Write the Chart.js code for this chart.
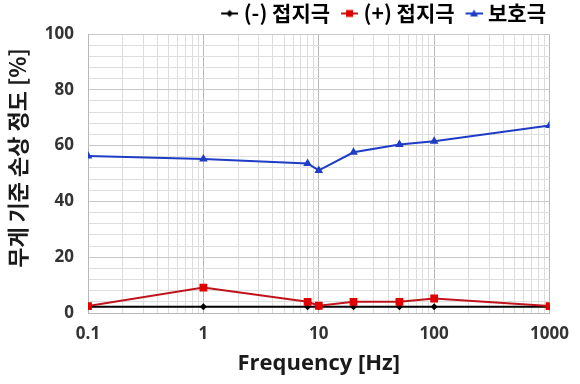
<!DOCTYPE html>
<html lang="ko">
<head>
<meta charset="utf-8">
<title>무게 기준 손상 정도</title>
<script src="https://cdn.jsdelivr.net/npm/chart.js@4/dist/chart.umd.min.js"></script>
<style>
  html, body { margin: 0; padding: 0; background: #ffffff; }
  #wrap { width: 580px; height: 384px; }
</style>
</head>
<body>
<div id="wrap"><canvas id="chart" width="580" height="384"></canvas></div>
<script>
// Measured weight-loss damage per test frequency
const frequencies = [0.1, 1, 8, 10, 20, 50, 100, 1000];
const negativeElectrode = [2.2, 2.2, 2.2, 2.2, 2.2, 2.2, 2.2, 2.2];
const positiveElectrode = [2.5, 9.1, 4.0, 2.6, 4.0, 4.0, 5.2, 2.5];
const protectiveElectrode = [56.3, 55.2, 53.6, 51.1, 57.6, 60.4, 61.6, 67.2];
const seriesNames = ['(-) 접지극', '(+) 접지극', '보호극'];

// Axis labels
const xTickLabels = ['0.1', '1', '10', '100', '1000'];
const yTickLabels = ['0', '20', '40', '60', '80', '100'];
const xTitle = 'Frequency [Hz]';
const yTitle = '무게 기준 손상 정도 [%]';

const lineColors = ['#000000', '#c0141c', '#1f3cc4'];
const markerColors = ['#000000', '#e00000', '#1f3cc4'];
const markerStyles = ['rectRot', 'rect', 'triangle'];
const markerRadii = [3.5, 5.5, 5];

const koreanFont = "'Noto Sans CJK KR', sans-serif";
const latinFont = "'Open Sans', 'Liberation Sans', sans-serif";

// Log-axis grid: every integer multiple inside each decade
function logGridValues(lo, hi) {
  const out = [];
  for (let e = Math.round(Math.log10(lo)); e < Math.round(Math.log10(hi)); e++) {
    for (let m = 1; m <= 9; m++) out.push(Number((m * Math.pow(10, e)).toPrecision(6)));
  }
  out.push(hi);
  return out;
}
const isDecade = v => Math.abs(Math.log10(v) - Math.round(Math.log10(v))) < 1e-9;

// Small line-with-marker icons for the legend
function legendIcon(i) {
  const c = document.createElement('canvas');
  c.width = 30; c.height = 12;
  const g = c.getContext('2d');
  g.strokeStyle = lineColors[i];
  g.lineWidth = 2;
  g.beginPath(); g.moveTo(13, 6); g.lineTo(30, 6); g.stroke();
  g.fillStyle = markerColors[i];
  const cx = 21.5, cy = 6;
  g.beginPath();
  if (markerStyles[i] === 'rectRot') {
    g.moveTo(cx, cy - 3.5); g.lineTo(cx + 3.5, cy); g.lineTo(cx, cy + 3.5); g.lineTo(cx - 3.5, cy);
  } else if (markerStyles[i] === 'rect') {
    g.rect(cx - 3.5, cy - 3.5, 7, 7);
  } else {
    g.moveTo(cx, cy - 4); g.lineTo(cx + 4, cy + 3); g.lineTo(cx - 4, cy + 3);
  }
  g.closePath(); g.fill();
  return c;
}

const seriesValues = [negativeElectrode, positiveElectrode, protectiveElectrode];
const datasets = seriesValues.map((vals, i) => ({
  label: seriesNames[i],
  data: frequencies.map((f, k) => ({ x: f, y: vals[k] })),
  borderColor: lineColors[i],
  backgroundColor: markerColors[i],
  pointBackgroundColor: markerColors[i],
  pointBorderColor: markerColors[i],
  pointStyle: markerStyles[i],
  pointRadius: markerRadii[i],
  pointBorderWidth: 0,
  borderWidth: 2,
  tension: 0,
  order: [2, 1, 0][i]
}));

// Keep the legend row clear of the right edge of the plot
const legendInset = {
  id: 'legendInset',
  afterLayout(chart) { if (chart.legend) chart.legend.right = 549; }
};

// Rotated value-axis title, set a little above the plot's middle
const valueAxisTitle = {
  id: 'valueAxisTitle',
  afterDraw(chart) {
    const ctx = chart.ctx;
    ctx.save();
    ctx.translate(18, 158);
    ctx.rotate(-Math.PI / 2);
    ctx.font = 'bold 22px ' + koreanFont;
    ctx.fillStyle = '#1a1a1a';
    ctx.textAlign = 'center';
    ctx.textBaseline = 'middle';
    ctx.fillText(yTitle, 0, 0);
    ctx.restore();
  }
};

const tickFont = { family: latinFont, size: 17, weight: 'bold' };

new Chart(document.getElementById('chart'), {
  type: 'line',
  data: { datasets },
  plugins: [legendInset, valueAxisTitle],
  options: {
    responsive: false,
    animation: false,
    layout: { padding: { left: 0, right: 22, top: 0, bottom: 7 } },
    plugins: {
      tooltip: { enabled: false },
      legend: {
        position: 'top',
        align: 'end',
        labels: {
          usePointStyle: true,
          pointStyleWidth: 20,
          padding: 3,
          color: '#111111',
          font: { family: koreanFont, size: 21, weight: 'bold' },
          generateLabels: chart => chart.data.datasets.map((d, i) => ({
            text: d.label,
            pointStyle: legendIcon(i),
            fillStyle: markerColors[i],
            strokeStyle: lineColors[i],
            lineWidth: 0,
            hidden: false,
            datasetIndex: i
          }))
        }
      }
    },
    scales: {
      x: {
        type: 'logarithmic',
        min: 0.1,
        max: 1000,
        afterBuildTicks: s => { s.ticks = logGridValues(0.1, 1000).map(v => ({ value: v, major: isDecade(v) })); },
        afterFit: s => { s.height = 64; },
        ticks: {
          autoSkip: false,
          maxRotation: 0,
          padding: 11,
          color: '#333333',
          font: tickFont,
          callback: v => xTickLabels.find(l => Math.abs(parseFloat(l) - v) < 1e-9) || ''
        },
        grid: {
          drawTicks: false,
          lineWidth: 1,
          color: ctx => (ctx.tick && isDecade(ctx.tick.value)) ? '#b8b8b8' : '#dcdcdc'
        },
        border: { color: '#b8b8b8' },
        title: {
          display: true,
          text: xTitle,
          color: '#1a1a1a',
          padding: { top: 0, bottom: 0 },
          font: { family: latinFont, size: 22, weight: 'bold' }
        }
      },
      y: {
        type: 'linear',
        min: 0,
        max: 100,
        afterBuildTicks: s => {
          const t = [];
          for (let v = 0; v <= 100; v += 4) t.push({ value: v });
          s.ticks = t;
        },
        afterFit: s => { s.width = 88; },
        ticks: {
          autoSkip: false,
          padding: 14,
          color: '#333333',
          font: tickFont,
          callback: v => yTickLabels.find(l => Number(l) === v) || ''
        },
        grid: {
          drawTicks: false,
          lineWidth: 1,
          color: ctx => (ctx.tick && ctx.tick.value % 20 === 0) ? '#c8c8c8' : '#dedede'
        },
        border: { color: '#b8b8b8' },
        title: { display: false }
      }
    }
  }
});
</script>
</body>
</html>
